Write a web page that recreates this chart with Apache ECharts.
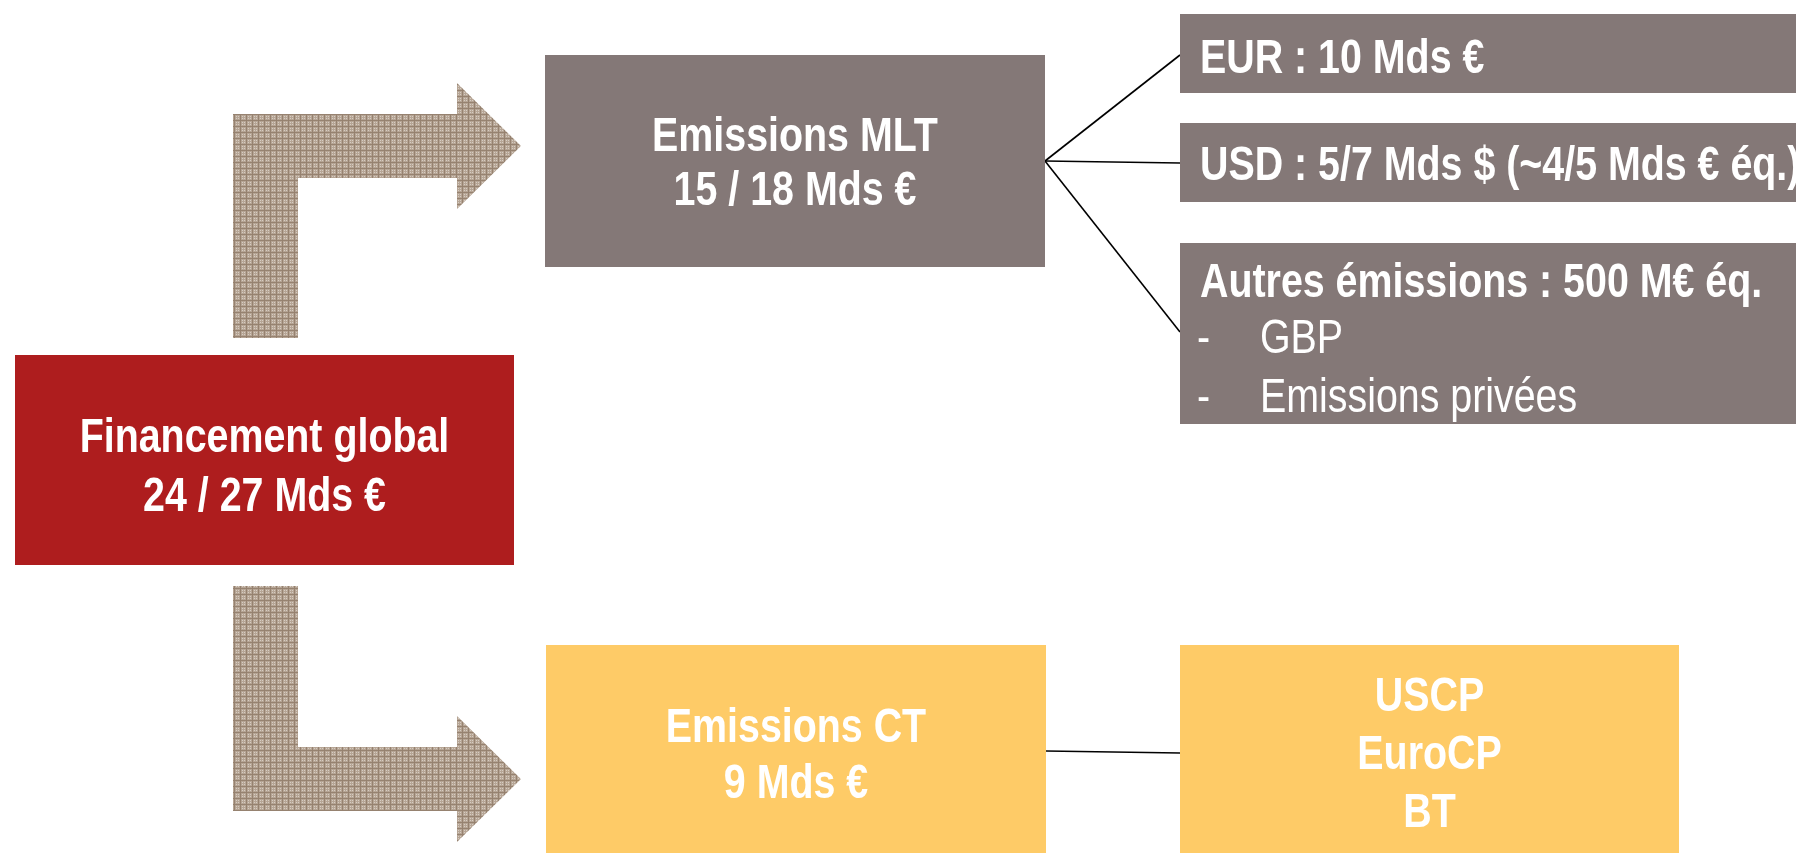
<!DOCTYPE html>
<html>
<head>
<meta charset="utf-8">
<script src="https://cdn.jsdelivr.net/npm/echarts@6/dist/echarts.min.js"></script>
<style>
html,body{margin:0;padding:0;background:#fff;}
#main{width:1796px;height:853px;}
</style>
</head>
<body>
<div id="main"></div>
<script>
// ---- content (texts) ----
const nodeTitles = ['Financement global', 'Emissions MLT', 'Emissions CT'];
const nodeAmounts = ['24 / 27 Mds €', '15 / 18 Mds €', '9 Mds €'];
const mltItems = ['EUR : 10 Mds €', 'USD : 5/7 Mds $ (~4/5 Mds € éq.)', 'Autres émissions : 500 M€ éq.'];
const otherSubItems = ['GBP', 'Emissions privées'];
const ctItems = ['USCP', 'EuroCP', 'BT'];

// ---- layout (diagram coordinates, pixels) ----
const W = 1796, H = 853;
const FONT = '"Liberation Sans", Arial, sans-serif';
const NARROW = 0.82;
const FS = 48;
const GREY = '#847877', RED = '#AE1D1E', YELLOW = '#FECB67';

const boxes = [
  {x0: 15, y0: 355, x1: 514, y1: 565, color: RED, lines: [nodeTitles[0], nodeAmounts[0]], align: 'center', cy: 468, lh: 59},
  {x0: 545, y0: 55, x1: 1045, y1: 267, color: GREY, lines: [nodeTitles[1], nodeAmounts[1]], align: 'center', cy: 165, lh: 54},
  {x0: 546, y0: 645, x1: 1046, y1: 860, color: YELLOW, lines: [nodeTitles[2], nodeAmounts[2]], align: 'center', cy: 757, lh: 56},
  {x0: 1180, y0: 14, x1: 1800, y1: 93, color: GREY, lines: [mltItems[0]], align: 'left', cy: 60},
  {x0: 1180, y0: 123, x1: 1800, y1: 202, color: GREY, lines: [mltItems[1]], align: 'left', cy: 167},
  {x0: 1180, y0: 243, x1: 1800, y1: 424, color: GREY, lines: [mltItems[2]], sub: otherSubItems, align: 'left', cy: 284, lh: 56},
  {x0: 1180, y0: 645, x1: 1679, y1: 860, color: YELLOW, lines: ctItems, align: 'center', cy: 756, lh: 58}
];

const arrows = [
  [[233,338],[233,114],[457,114],[457,83],[521,146],[457,209],[457,178],[298,178],[298,338]],
  [[233,586],[298,586],[298,747],[457,747],[457,716],[521,779],[457,842],[457,811],[233,811]]
];

const links = [
  [[1045,161],[1180,55]],
  [[1045,161],[1180,163]],
  [[1045,161],[1180,332]],
  [[1046,751],[1180,753]]
];

// texture pattern for arrows
function makePattern(){
  const c = document.createElement('canvas');
  c.width = 6; c.height = 6;
  const g = c.getContext('2d');
  g.fillStyle = '#B6A595'; g.fillRect(0,0,6,6);
  g.fillStyle = '#968270'; g.fillRect(0,0,6,1); g.fillRect(0,0,1,6);
  g.fillStyle = '#D6CCC2'; g.fillRect(2,2,1,1); g.fillRect(4,2,1,1); g.fillRect(2,4,1,1); g.fillRect(4,4,1,1);
  return c;
}
const pattern = {image: makePattern(), repeat: 'repeat'};

const chart = echarts.init(document.getElementById('main'), null, {renderer: 'canvas'});

function txt(str, x, y, align, weight){
  return {type: 'text', x: x, y: y, scaleX: NARROW, scaleY: 1,
    style: {text: str, x: 0, y: 0, align: align, verticalAlign: 'middle', fill: '#fff',
      fontFamily: FONT, fontWeight: weight, fontSize: FS}};
}

chart.setOption({
  animation: false,
  grid: {left: 0, right: 0, top: 0, bottom: 0},
  xAxis: {type: 'value', min: 0, max: W, show: false},
  yAxis: {type: 'value', min: 0, max: H, inverse: true, show: false},
  series: [
    {
      type: 'custom', silent: true,
      data: arrows.map((a, i) => [i]),
      renderItem: function(params, api){
        const pts = arrows[api.value(0)].map(p => api.coord(p));
        return {type: 'polygon', shape: {points: pts}, style: {fill: pattern}};
      }
    },
    {
      type: 'custom', silent: true,
      data: links.map((l, i) => [i]),
      renderItem: function(params, api){
        const l = links[api.value(0)];
        const a = api.coord(l[0]), b = api.coord(l[1]);
        return {type: 'line', shape: {x1: a[0], y1: a[1], x2: b[0], y2: b[1]}, style: {stroke: '#000', lineWidth: 1.6}};
      }
    },
    {
      type: 'custom', silent: true,
      data: boxes.map((b, i) => [i]),
      renderItem: function(params, api){
        const b = boxes[api.value(0)];
        const p0 = api.coord([b.x0, b.y0]), p1 = api.coord([b.x1, b.y1]);
        const children = [{type: 'rect', shape: {x: p0[0], y: p0[1], width: p1[0]-p0[0], height: p1[1]-p0[1]}, style: {fill: b.color}}];
        const n = b.lines.length;
        const lh = b.lh || 0;
        const cyPix = api.coord([0, b.cy])[1];
        if (b.align === 'center') {
          const cx = (p0[0]+p1[0])/2;
          b.lines.forEach((s, k) => {
            children.push(txt(s, cx, cyPix + (k - (n-1)/2) * lh, 'center', 'bold'));
          });
        } else {
          const lx = p0[0] + 20;
          children.push(txt(b.lines[0], lx, cyPix, 'left', 'bold'));
          if (b.sub) {
            b.sub.forEach((s, k) => {
              const y = cyPix + (k + 1) * lh + (k === 1 ? 3 : 0);
              children.push(txt('-', lx - 3, y, 'left', 'normal'));
              children.push(txt(s, lx + 60, y, 'left', 'normal'));
            });
          }
        }
        return {type: 'group', children: children};
      }
    }
  ]
});
</script>
</body>
</html>
